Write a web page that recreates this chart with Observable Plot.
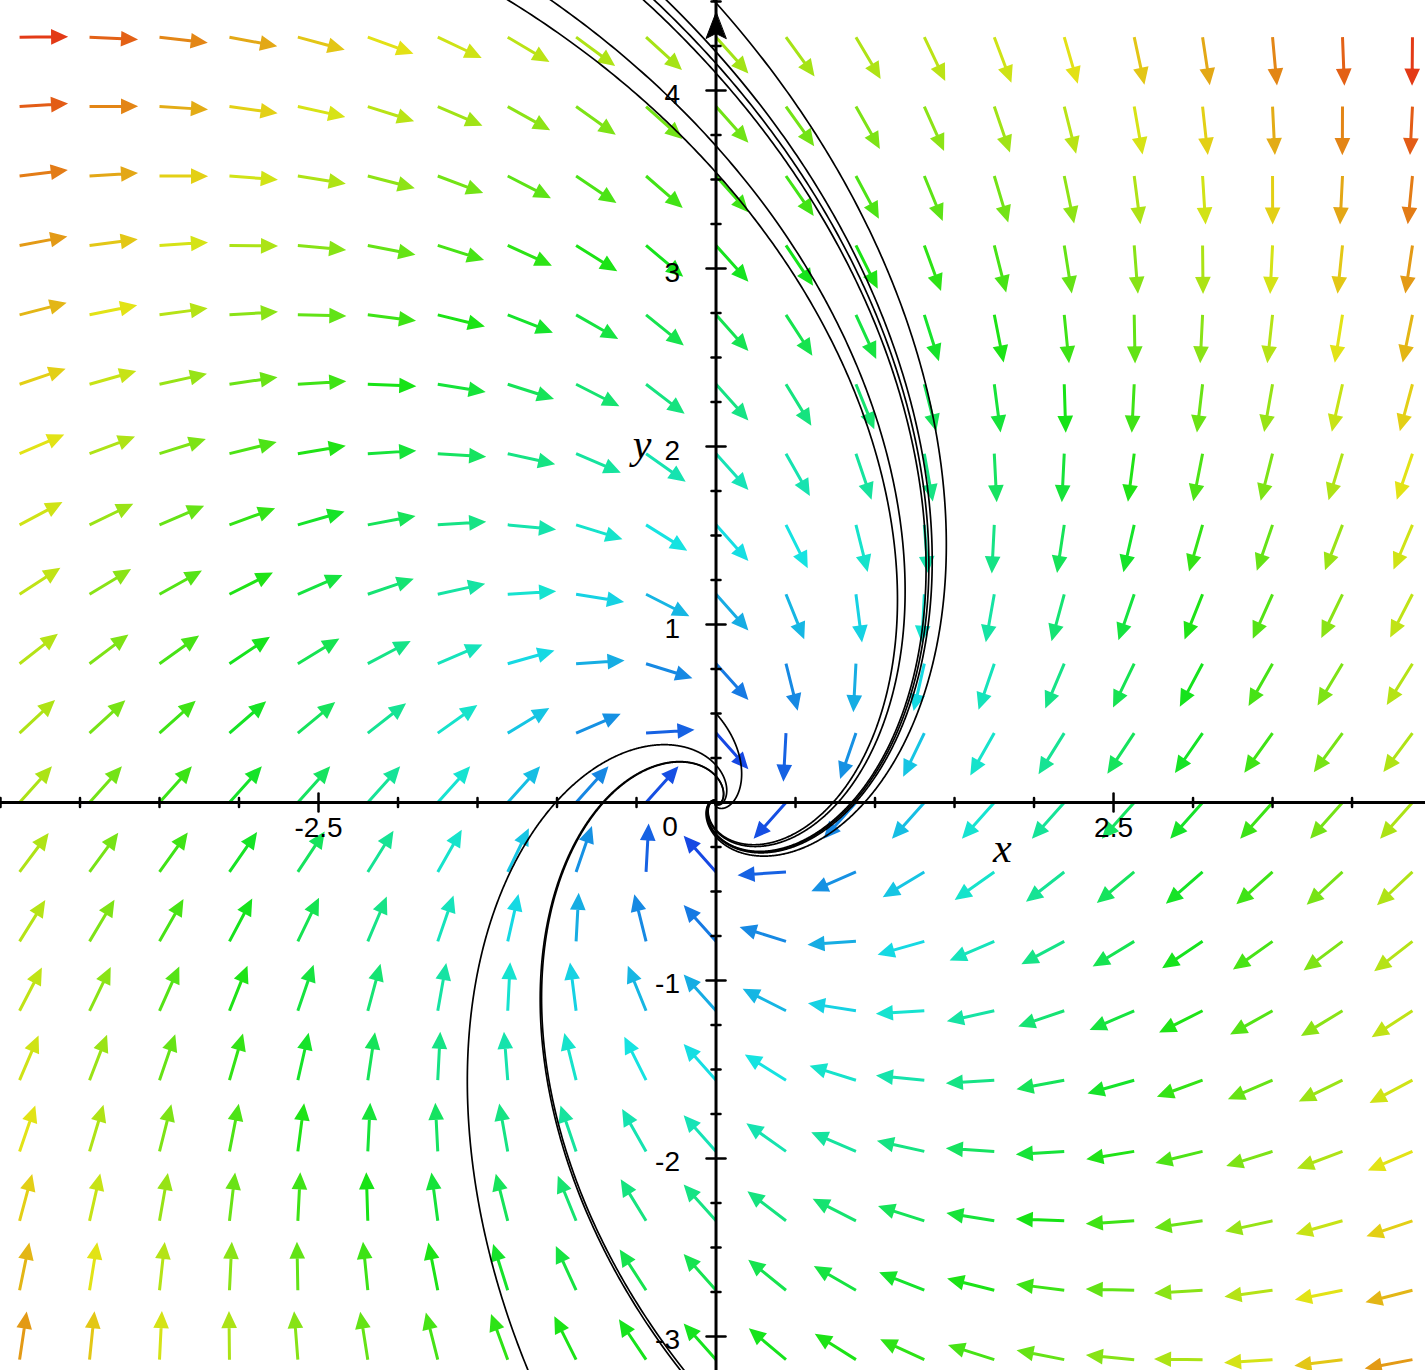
<!DOCTYPE html>
<html>
<head>
<meta charset="utf-8">
<script src="https://cdn.jsdelivr.net/npm/d3@7"></script>
<script src="https://cdn.jsdelivr.net/npm/@observablehq/plot@0.6"></script>
<style>
html, body { margin: 0; padding: 0; background: #ffffff; overflow: hidden; }
#chart svg { display: block; }
</style>
</head>
<body>
<div id="chart"></div>
<script>
// ---- Data ----
// Direction-field grid (arrow tails)
const gridX = [-4.38, -3.94, -3.50, -3.06, -2.63, -2.19, -1.75, -1.31, -0.88, -0.44, 0,
               0.44, 0.88, 1.31, 1.75, 2.19, 2.63, 3.06, 3.50, 3.94, 4.38];
const gridY = [-3.13, -2.74, -2.35, -1.96, -1.56, -1.17, -0.78, -0.39, 0,
               0.39, 0.78, 1.17, 1.56, 1.96, 2.35, 2.74, 3.13, 3.52, 3.91, 4.30];
// Linear system  x' = a*x + b*y,  y' = c*x + d*y
const coefA = [-1, 1];
const coefB = [-1, -1];
// Initial conditions of the solution curves
const initialX = [-1.48, -1.19, -0.57, -0.50, -0.42, -0.11, -1.13, -0.10, -0.125, 0];
const initialY = [4.6, 4.6, 4.6, 4.6, 4.6, 4.6, -3.3, -3.3, -3.3, 0.5];
// Axis ticks and labels
const xTickLabels = [-2.5, 2.5];
const yTickLabels = [-3, -2, -1, 1, 2, 3, 4];
const xMinorTicks = [-4.5, -4, -3.5, -3, -2, -1.5, -1, -0.5, 0.5, 1, 1.5, 2, 3, 3.5, 4, 4.5];
const yMinorTicks = [-3.25, -2.75, -2.5, -2.25, -1.75, -1.5, -1.25, -0.75, -0.5, -0.25,
                     0.25, 0.5, 0.75, 1.25, 1.5, 1.75, 2.25, 2.5, 2.75, 3.25, 3.5, 3.75, 4.25, 4.5];

// ---- Layout ----
const W = 1425, H = 1370;
const xDomain = [-4.5, 4.462];
const yDomain = [-3.191, 4.506];
const kx = W / (xDomain[1] - xDomain[0]);
const ky = H / (yDomain[1] - yDomain[0]);

const field = (x, y) => [coefA[0] * x + coefA[1] * y, coefB[0] * x + coefB[1] * y];

// arrows
const arrows = [];
for (const gx of gridX) for (const gy of gridY) {
  const [u, v] = field(gx, gy);
  const m = Math.hypot(u, v);
  if (m < 1e-9) continue;
  arrows.push({x: gx, y: gy, m, angle: Math.atan2(u * kx, v * ky) * 180 / Math.PI});
}
const maxM = d3.max(arrows, d => d.m) * 1.045;
for (const a of arrows) {
  const hue = 240 * (1 - a.m / maxM);
  a.color = d3.hsl(hue, 0.82, 0.49).formatHex();
}

// solution curves (RK4, forward in time)
const curves = [];
initialX.forEach((x0, id) => {
  let p = [x0, initialY[id]];
  const dt = 0.005;
  for (let i = 0; i <= 2600; i++) {
    curves.push({x: p[0], y: p[1], id});
    const k1 = field(p[0], p[1]);
    const k2 = field(p[0] + dt / 2 * k1[0], p[1] + dt / 2 * k1[1]);
    const k3 = field(p[0] + dt / 2 * k2[0], p[1] + dt / 2 * k2[1]);
    const k4 = field(p[0] + dt * k3[0], p[1] + dt * k3[1]);
    p = [p[0] + dt / 6 * (k1[0] + 2 * k2[0] + 2 * k3[0] + k4[0]),
         p[1] + dt / 6 * (k1[1] + 2 * k2[1] + 2 * k3[1] + k4[1])];
  }
});

// shapes
const arrowShape = {
  draw(ctx, l) {
    const hl = 12, hw = 5.5;
    ctx.moveTo(0, 0);
    ctx.lineTo(0, -l + hl);
    ctx.moveTo(-hw, -l + hl);
    ctx.lineTo(0, -l);
    ctx.lineTo(hw, -l + hl);
    ctx.closePath();
  }
};
const tickShape = {
  draw(ctx, l) {
    ctx.moveTo(0, -l / 2);
    ctx.lineTo(0, l / 2);
  }
};
const axisHead = {
  draw(ctx) {
    ctx.moveTo(0, 12);
    ctx.lineTo(-10, 38);
    ctx.lineTo(0, 33);
    ctx.lineTo(10, 38);
    ctx.closePath();
  }
};

const sans = "Liberation Sans, Arial, Helvetica, sans-serif";
const serif = "Liberation Serif, Times New Roman, serif";

const chart = Plot.plot({
  width: W,
  height: H,
  margin: 0,
  x: {domain: xDomain, axis: null},
  y: {domain: yDomain, axis: null},
  color: {type: "identity"},
  style: {background: "#ffffff"},
  marks: [
    Plot.vector(arrows, {
      x: "x", y: "y", rotate: "angle", length: 45, anchor: "start",
      shape: arrowShape, stroke: "color", fill: "color",
      strokeWidth: 3, strokeLinejoin: "miter", strokeLinecap: "butt"
    }),
    Plot.ruleY([0], {stroke: "black", strokeWidth: 3}),
    Plot.ruleX([0], {stroke: "black", strokeWidth: 3}),
    Plot.vector(xMinorTicks, {x: d => d, y: () => 0, length: 9, rotate: 0, anchor: "start", shape: tickShape, stroke: "black", strokeWidth: 2.5}),
    Plot.vector(xTickLabels, {x: d => d, y: () => 0, length: 18, rotate: 0, anchor: "start", shape: tickShape, stroke: "black", strokeWidth: 2.5}),
    Plot.vector(yMinorTicks, {x: () => 0, y: d => d, length: 9, rotate: 90, anchor: "start", shape: tickShape, stroke: "black", strokeWidth: 2.5}),
    Plot.vector(yTickLabels, {x: () => 0, y: d => d, length: 19, rotate: 90, anchor: "start", shape: tickShape, stroke: "black", strokeWidth: 2.5}),
    Plot.vector([0], {x: d => d, frameAnchor: "top", length: 30, rotate: 0, anchor: "start", shape: axisHead, stroke: "black", fill: "black", strokeWidth: 1}),
    Plot.line(curves, {x: "x", y: "y", z: "id", stroke: "black", strokeWidth: 1.7, clip: true}),
    Plot.text(xTickLabels, {x: d => d, y: () => 0, text: d => String(d), dy: 26, fontSize: 28, fontFamily: sans, fill: "black", textAnchor: "middle"}),
    Plot.text(["0"], {x: () => 0, y: () => 0, text: d => d, dx: -46, dy: 25, fontSize: 28, fontFamily: sans, fill: "black", textAnchor: "middle"}),
    Plot.text(yTickLabels, {x: () => 0, y: d => d, text: d => String(d), dx: -36, dy: 4, fontSize: 28, fontFamily: sans, fill: "black", textAnchor: "end"}),
    Plot.text(["x"], {x: () => 1.8, y: () => 0, text: d => d, dy: 46, fontSize: 42, fontFamily: serif, fontStyle: "italic", fill: "black", textAnchor: "middle"}),
    Plot.text(["y"], {x: () => 0, y: () => 2, text: d => d, dx: -74, dy: -2, fontSize: 42, fontFamily: serif, fontStyle: "italic", fill: "black", textAnchor: "middle"})
  ]
});
document.getElementById("chart").appendChild(chart);
</script>
</body>
</html>
